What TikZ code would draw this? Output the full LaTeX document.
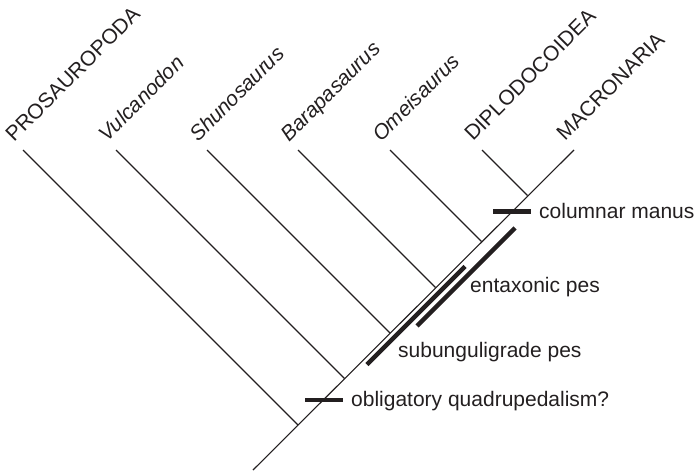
\documentclass[tikz,border=0pt]{standalone}
\usepackage{fontspec}
\setmainfont{Liberation Sans}
\usetikzlibrary{calc}
\definecolor{ink}{HTML}{231F20}
\tikzset{
  branch/.style={draw=ink, line width=1.1pt},
  charbar/.style={draw=ink, line width=4.5pt},
  taxon/.style={anchor=base west, rotate=45, inner sep=0pt, text=ink, font=\fontsize{21}{24}\selectfont},
  charlabel/.style={anchor=base west, inner sep=0pt, text=ink, font=\fontsize{21}{24}\selectfont}
}
\begin{document}
\begin{tikzpicture}[x=1pt, y=-1pt]
\useasboundingbox (0,0) rectangle (700,474);
% tips
\coordinate (t1) at (23,150);
\coordinate (t2) at (116,150);
\coordinate (t3) at (207,150);
\coordinate (t4) at (298,150);
\coordinate (t5) at (390,150);
\coordinate (t6) at (482,150);
\coordinate (t7) at (574,150);
% joints
\coordinate (root) at (253,470);
\coordinate (j1) at (298,425);
\coordinate (j2) at (344.5,378.5);
\coordinate (j3) at (390,333);
\coordinate (j4) at (435.5,287.5);
\coordinate (j5) at (481.5,241.5);
\coordinate (j6) at (527.5,195.5);
% labels
\node[taxon] (l1) at ($(t1)+(-9,-7)$) {PROSAUROPODA};
\node[taxon] (l2) at ($(t2)+(-9,-7)$) {\itshape Vulcanodon};
\node[taxon] (l3) at ($(t3)+(-9,-7)$) {\itshape Shunosaurus};
\node[taxon] (l4) at ($(t4)+(-9,-7)$) {\itshape Barapasaurus};
\node[taxon] (l5) at ($(t5)+(-9,-7)$) {\itshape Omeisaurus};
\node[taxon] (l6) at ($(t6)+(-9,-8)$) {DIPLODOCOIDEA};
\node[taxon] (l7) at ($(t7)+(-9,-8)$) {MACRONARIA};
% branches
\draw[branch] (root) -- (t7);
\draw[branch] (t1) -- (j1);
\draw[branch] (t2) -- (j2);
\draw[branch] (t3) -- (j3);
\draw[branch] (t4) -- (j4);
\draw[branch] (t5) -- (j5);
\draw[branch] (t6) -- (j6);
% character bars
\coordinate (cm1) at (493,211.5);
\coordinate (cm2) at (531,211.5);
\coordinate (oq1) at (305,400);
\coordinate (oq2) at (343,400);
\coordinate (sp1) at (367,364.5);
\coordinate (sp2) at (465,266.5);
\coordinate (ep1) at (417,326);
\coordinate (ep2) at (515,228);
\draw[charbar] (cm1) -- (cm2);
\draw[charbar] (oq1) -- (oq2);
\draw[charbar] (sp1) -- (sp2);
\draw[charbar] (ep1) -- (ep2);
% character labels
\node[charlabel] (cml) at (539,218) {columnar manus};
\node[charlabel] (oql) at (351,406.5) {obligatory quadrupedalism?};
\node[charlabel] (epl) at (470,292) {entaxonic pes};
\node[charlabel] (spl) at (398,357) {subunguligrade pes};
\end{tikzpicture}
\end{document}
